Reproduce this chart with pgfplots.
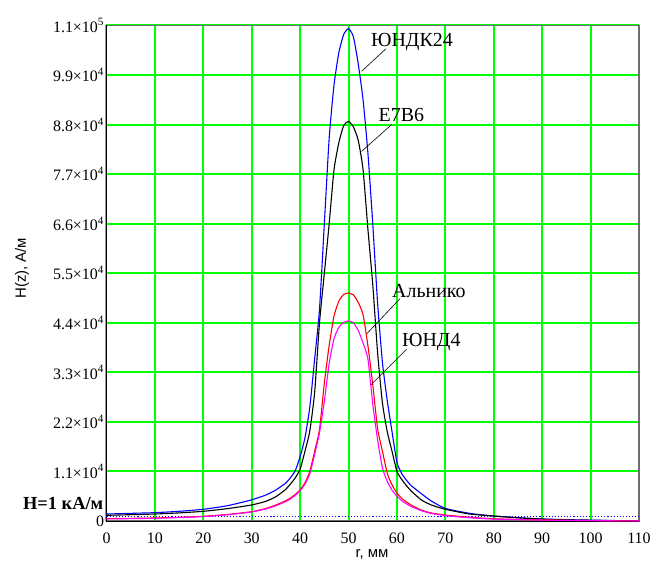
\documentclass[border=0pt]{standalone}
\usepackage{pgfplots}
\pgfplotsset{compat=1.18}
\usepackage{fontspec}
\setmainfont{Liberation Serif}
\setsansfont{Liberation Sans}
\definecolor{gridgreen}{RGB}{0,255,0}
\definecolor{boxgray}{RGB}{110,110,110}
\definecolor{mcblue}{RGB}{0,0,255}
\definecolor{mcmag}{RGB}{255,0,255}
\definecolor{mcred}{RGB}{255,0,0}

\begin{document}
\begin{tikzpicture}
\begin{axis}[
  at={(0,0)}, anchor=south west,
  scale only axis,
  width=532.5bp, height=495.5bp,
  xmin=0, xmax=110, ymin=0, ymax=110000,
  enlargelimits=false,
  clip=false,
  scaled ticks=false,
  xtick={0,10,...,110},
  ytick={0,11000,22000,33000,44000,55000,66000,77000,88000,99000,110000},
  yticklabels={0,1.1×10\textsuperscript{4},2.2×10\textsuperscript{4},3.3×10\textsuperscript{4},4.4×10\textsuperscript{4},5.5×10\textsuperscript{4},6.6×10\textsuperscript{4},7.7×10\textsuperscript{4},8.8×10\textsuperscript{4},9.9×10\textsuperscript{4},1.1×10\textsuperscript{5}},
  /pgf/number format/assume math mode=true,
  major tick length=0pt,
  grid=major,
  major grid style={gridgreen, line width=2bp},
  axis line style={boxgray, line width=1.6bp},
  tick label style={font=\fontsize{16}{18}\selectfont},
  xticklabel style={yshift=-8bp},
  yticklabel style={xshift=1bp},
  xlabel={r, мм},
  ylabel={H(z), А/м},
  xlabel style={font=\sffamily\fontsize{15}{17}\selectfont, at={(axis description cs:0.4986,-0.0665)}, anchor=center},
  ylabel style={font=\sffamily\fontsize{15}{17}\selectfont, at={(axis description cs:-0.1587,0.51)}, anchor=center, rotate=0},
  every axis plot/.append style={line width=1.1bp, smooth, tension=0.35},
]
% frame: left and bottom black
\draw[black, line width=1bp] (rel axis cs:0,1) -- (rel axis cs:0,0) -- (rel axis cs:1,0);

% H = 1 kA/m level
\addplot[mcblue, dotted, line width=1.5bp, sharp plot] coordinates {(0,1000) (110,1000)};

% ЮНДК24
\addplot[mcblue] coordinates {
(0,1550)(5,1700)(10,1850)(15,2150)(20,2600)(25,3400)(30,4700)(33,5800)(35,6900)(37,8400)(38,9600)(39,11200)(40,14300)(41,18500)(42,25300)(43,36000)(44,47000)(45,66000)(46,85000)(47,96800)(48,104000)(49,108000)(50,109300)(51,107500)(52,101500)(53,93500)(54,81700)(55,66000)(56,48400)(57,35200)(58,26700)(59,19700)(60,13000)(61,10500)(62,9000)(63,7800)(65,6100)(67,4500)(70,2800)(75,1700)(80,1100)(85,750)(90,450)(95,300)(100,200)(105,100)(110,50)
};
% Е7В6
\addplot[black] coordinates {
(0,1260)(5,1400)(10,1550)(15,1800)(20,2150)(25,2750)(30,3560)(33,4400)(35,5400)(37,7000)(38,8200)(39,9600)(40,11500)(41,15500)(42,20000)(43,28600)(44,44000)(45,55000)(46,66000)(47,78000)(48,84000)(49,87800)(50,88700)(51,87500)(52,84500)(53,78000)(54,64800)(55,52500)(56,37400)(57,26200)(58,19800)(59,15400)(60,11000)(61,9200)(62,7800)(63,6600)(65,4700)(67,3600)(70,2600)(75,1550)(80,1100)(85,700)(90,420)(95,250)(100,150)(105,80)(110,30)
};
% Альнико
\addplot[mcred] coordinates {
(0,520)(5,590)(10,670)(15,830)(20,1040)(25,1450)(30,2070)(33,2800)(35,3560)(37,4500)(38,5100)(39,5900)(40,6900)(41,8500)(42,11000)(43,15500)(44,20300)(45,30600)(46,39000)(47,45500)(48,48800)(49,50300)(50,50600)(51,50200)(52,48500)(53,45800)(54,38900)(55,30300)(56,20500)(57,15500)(58,10600)(59,8000)(60,6200)(61,5000)(62,4200)(63,3500)(65,2440)(67,1800)(70,1330)(75,820)(80,500)(85,350)(90,250)(95,160)(100,100)(105,50)(110,20)
};
% ЮНД4
\addplot[mcmag] coordinates {
(0,450)(5,520)(10,600)(15,760)(20,980)(25,1380)(30,2000)(33,2700)(35,3400)(37,4300)(38,4900)(39,5700)(40,6700)(41,8200)(42,10500)(43,14800)(44,19600)(45,26600)(46,35000)(47,40500)(48,43000)(49,44100)(50,44400)(51,44000)(52,42300)(53,39500)(54,36000)(55,26000)(56,18000)(57,11800)(58,8800)(59,6800)(60,5500)(61,4500)(62,3800)(63,3200)(65,2300)(67,1700)(70,1200)(75,720)(80,420)(85,300)(90,200)(95,130)(100,80)(105,40)(110,10)
};

% annotations
\draw[black, line width=0.6bp] (axis cs:57.7,104800) -- (axis cs:52.7,99840);
\node[font=\fontsize{20}{22}\selectfont] at (axis cs:63.1,106400) {ЮНДК24};
\draw[black, line width=0.6bp] (axis cs:58.9,88000) -- (axis cs:52.7,82060);
\node[font=\fontsize{20}{22}\selectfont] at (axis cs:60.9,90200) {Е7В6};
\draw[black, line width=0.6bp] (axis cs:60.6,49330) -- (axis cs:53.75,41550);
\node[font=\fontsize{20}{22}\selectfont] at (axis cs:66.6,50950) {Альнико};
\draw[black, line width=0.6bp] (axis cs:62.0,38150) -- (axis cs:54.6,30220);
\node[font=\fontsize{20}{22}\selectfont] at (axis cs:67.1,39840) {ЮНД4};

\node[font=\bfseries\fontsize{18.5}{20}\selectfont, anchor=east, inner sep=0pt, xshift=-3bp] at (axis cs:0,3800) {H=1 кА/м};
\end{axis}
\pgfresetboundingbox
\path[use as bounding box] (-106.5bp,-43bp) rectangle (552.5bp,521bp);
\end{tikzpicture}
\end{document}
